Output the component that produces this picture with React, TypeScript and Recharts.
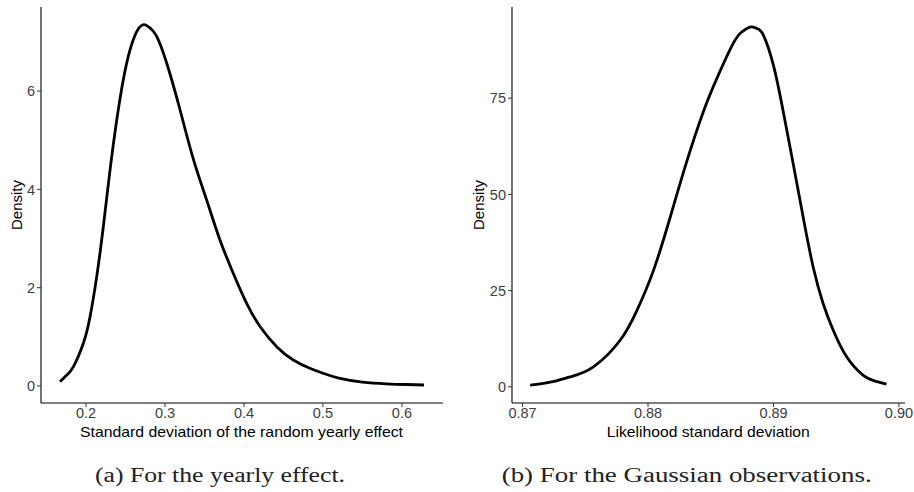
import React from "react";
import { LineChart, Line, XAxis, YAxis } from "recharts";

// Panel (a): posterior density of the SD of the random yearly effect
const xA = [0.1671, 0.1755, 0.1839, 0.1966, 0.2051, 0.2135, 0.2219, 0.2304, 0.2389, 0.2472, 0.2557, 0.2642, 0.27, 0.2756, 0.282, 0.2895, 0.3021, 0.319, 0.3358, 0.3528, 0.3696, 0.3865, 0.4034, 0.4203, 0.4414, 0.4624, 0.4835, 0.5, 0.52, 0.55, 0.58, 0.605, 0.628];
const yA = [0.088, 0.22, 0.39, 0.87, 1.41, 2.22, 3.24, 4.39, 5.41, 6.23, 6.84, 7.21, 7.33, 7.345, 7.27, 7.11, 6.57, 5.62, 4.62, 3.78, 2.97, 2.29, 1.68, 1.21, 0.8, 0.53, 0.36, 0.26, 0.16, 0.08, 0.045, 0.03, 0.02];
const xTicksA = [0.2, 0.3, 0.4, 0.5, 0.6];
const yTicksA = [0, 2, 4, 6];

// Panel (b): posterior density of the likelihood SD
const xB = [0.87061, 0.8722, 0.8738, 0.87565, 0.87778, 0.87911, 0.88043, 0.88176, 0.88309, 0.88441, 0.88548, 0.8868, 0.8875, 0.88813, 0.88869, 0.88919, 0.88999, 0.89078, 0.89158, 0.89237, 0.89317, 0.89396, 0.89476, 0.89583, 0.89715, 0.8981, 0.899];
const yB = [0.44, 1.2, 2.6, 5.2, 12.1, 19.8, 30.2, 44.0, 58.6, 71.5, 80.1, 89.3, 92.3, 93.5, 93.1, 91.4, 83.6, 71.5, 57.8, 44.0, 31.0, 21.6, 14.7, 7.8, 3.0, 1.5, 0.7];
const xTicksB = [0.87, 0.88, 0.89, 0.9];
const yTicksB = [0, 25, 50, 75];

const labelsX = ["Standard deviation of the random yearly effect", "Likelihood standard deviation"];
const labelY = "Density";
const captions = ["(a) For the yearly effect.", "(b) For the Gaussian observations."];

const dataA = xA.map((x, i) => ({ x, y: yA[i] }));
const dataB = xB.map((x, i) => ({ x, y: yB[i] }));

const SANS = "'Liberation Sans', Arial, sans-serif";
const SERIF = "'Liberation Serif', 'Times New Roman', serif";
const tickStyle = { fill: "#3d3d3d", fontSize: 14.5, fontFamily: SANS };

export default function App() {
  return (
    <div style={{ position: "absolute", left: 0, top: 0, width: 914, height: 492, background: "#fff", overflow: "hidden" }}>
      <div style={{ position: "absolute", left: 0, top: 0 }}>
        <LineChart width={460} height={430} data={dataA} margin={{ top: 7, right: 17, left: 0, bottom: 0 }}>
          <XAxis
            dataKey="x"
            type="number"
            domain={[0.143, 0.652]}
            allowDataOverflow
            ticks={xTicksA}
            tickFormatter={(v: number) => v.toFixed(1)}
            height={27}
            tickSize={4}
            tickMargin={1}
            tick={tickStyle}
            tickLine={{ stroke: "#333" }}
            axisLine={{ stroke: "#000", strokeWidth: 1.1 }}
          />
          <YAxis
            type="number"
            domain={[-0.346, 7.71]}
            allowDataOverflow
            ticks={yTicksA}
            width={41}
            tickSize={4}
            tickMargin={2}
            tick={tickStyle}
            tickLine={{ stroke: "#333" }}
            axisLine={{ stroke: "#000", strokeWidth: 1.1 }}
          />
          <Line dataKey="y" type="natural" stroke="#000" strokeWidth={2.8} dot={false} isAnimationActive={false} />
        </LineChart>
      </div>
      <div style={{ position: "absolute", left: 460, top: 0 }}>
        <LineChart width={454} height={430} data={dataB} margin={{ top: 7, right: 9, left: 0, bottom: 0 }}>
          <XAxis
            dataKey="x"
            type="number"
            domain={[0.86916, 0.90048]}
            allowDataOverflow
            ticks={xTicksB}
            tickFormatter={(v: number) => v.toFixed(2)}
            height={27}
            tickSize={4}
            tickMargin={1}
            tick={tickStyle}
            tickLine={{ stroke: "#333" }}
            axisLine={{ stroke: "#000", strokeWidth: 1.1 }}
          />
          <YAxis
            type="number"
            domain={[-4.2, 98.7]}
            allowDataOverflow
            ticks={yTicksB}
            width={52}
            tickSize={4}
            tickMargin={2}
            tick={tickStyle}
            tickLine={{ stroke: "#333" }}
            axisLine={{ stroke: "#000", strokeWidth: 1.1 }}
          />
          <Line dataKey="y" type="natural" stroke="#000" strokeWidth={2.8} dot={false} isAnimationActive={false} />
        </LineChart>
      </div>
      <svg width={914} height={492} style={{ position: "absolute", left: 0, top: 0, pointerEvents: "none" }}>
        <text x={241.5} y={436.5} textAnchor="middle" fontFamily={SANS} fontSize={15} fill="#000" textLength={323} lengthAdjust="spacingAndGlyphs">{labelsX[0]}</text>
        <text x={708.3} y={436.5} textAnchor="middle" fontFamily={SANS} fontSize={15} fill="#000" textLength={203} lengthAdjust="spacingAndGlyphs">{labelsX[1]}</text>
        <text transform="translate(21.5,205) rotate(-90)" textAnchor="middle" fontFamily={SANS} fontSize={15} fill="#000">{labelY}</text>
        <text transform="translate(484,205) rotate(-90)" textAnchor="middle" fontFamily={SANS} fontSize={15} fill="#000">{labelY}</text>
        <text x={220} y={482} textAnchor="middle" fontFamily={SERIF} fontSize={20} fill="#222" textLength={250} lengthAdjust="spacingAndGlyphs">{captions[0]}</text>
        <text x={686.7} y={482} textAnchor="middle" fontFamily={SERIF} fontSize={20} fill="#222" textLength={370} lengthAdjust="spacingAndGlyphs">{captions[1]}</text>
      </svg>
    </div>
  );
}
